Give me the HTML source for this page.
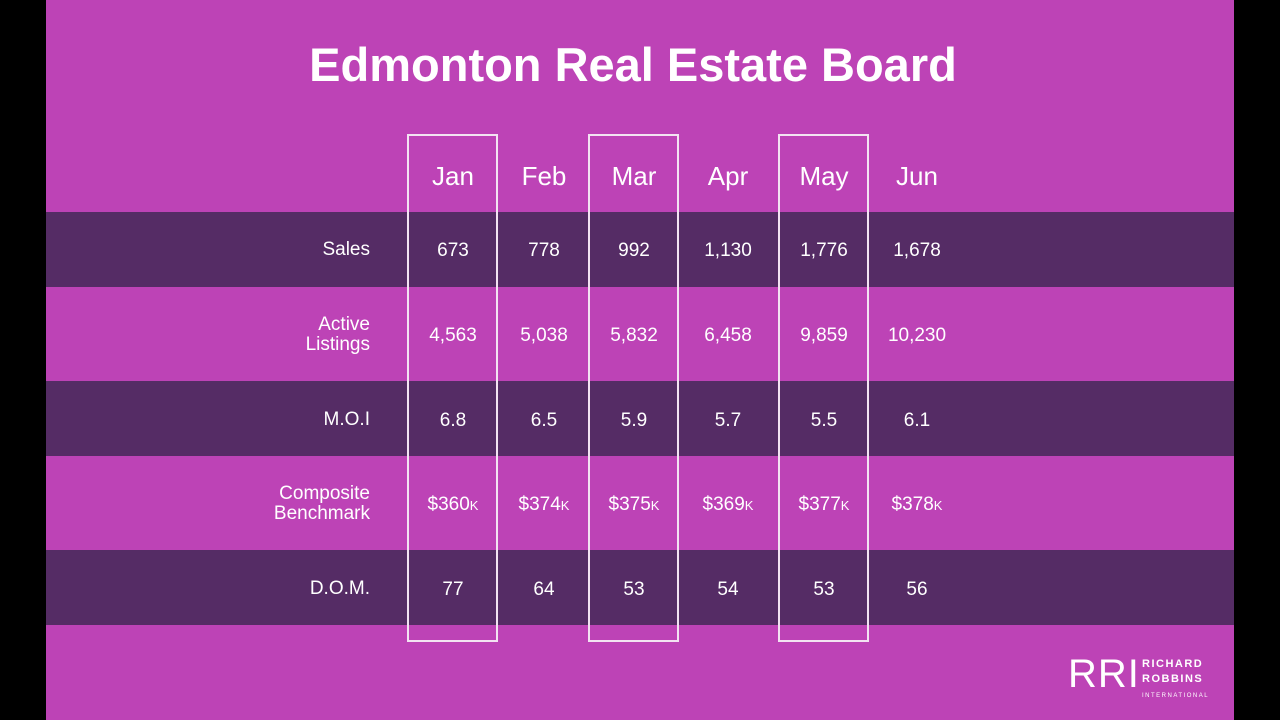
<!DOCTYPE html>
<html><head><meta charset="utf-8"><style>
body{margin:0;width:1280px;height:720px;background:#000;overflow:hidden;font-family:"Liberation Sans",sans-serif;}
#slide{position:absolute;left:46px;top:0;width:1188px;height:720px;background:#bd43b6;}
.t{position:absolute;color:#fff;}
.row{position:absolute;left:46px;width:1188px;background:#552c65;}
.hdr{font-size:26px;width:100px;text-align:center;top:161px;}
.lbl{font-size:19px;text-align:right;width:300px;left:70px;line-height:20px;}
.v{font-size:19px;width:100px;text-align:center;}
.box{position:absolute;border:2px solid #f3e3f2;top:134px;height:504px;width:87px;}
small{font-size:13px;}
</style></head><body>
<div id="slide"></div>
<div class="t" style="left:0;width:1266px;text-align:center;top:37px;font-size:47px;font-weight:bold;">Edmonton Real Estate Board</div>
<div class="row" style="top:212px;height:75px"></div>
<div class="row" style="top:381px;height:75px"></div>
<div class="row" style="top:550px;height:75px"></div>
<div class="box" style="left:407px"></div>
<div class="box" style="left:588px"></div>
<div class="box" style="left:778px"></div>
<div id="tbl"></div>
<div class="t" style="left:1068px;top:652px;font-size:40px;letter-spacing:1px;">RRI</div>
<div class="t" style="left:1142px;top:657px;font-size:11px;font-weight:bold;letter-spacing:1.5px;line-height:15px;">RICHARD<br>ROBBINS<br><span style="font-size:6px;font-weight:normal">INTERNATIONAL</span></div>
<script>
const months=["Jan","Feb","Mar","Apr","May","Jun"];
const labels=["Sales","Active<br>Listings","M.O.I","Composite<br>Benchmark","D.O.M."];
const sales=["673","778","992","1,130","1,776","1,678"];
const listings=["4,563","5,038","5,832","6,458","9,859","10,230"];
const moi=["6.8","6.5","5.9","5.7","5.5","6.1"];
const bench=["$360","$374","$375","$369","$377","$378"];
const dom=["77","64","53","54","53","56"];
const colX=[453,544,634,728,824,917];
const rowY=[251,336,421,505,590];
const series=[sales,listings,moi,bench,dom];
const root=document.getElementById('tbl');
months.forEach((m,i)=>{const d=document.createElement('div');d.className='t hdr';d.style.left=(colX[i]-50)+'px';d.innerHTML=m;


root.appendChild(d);});
labels.forEach((l,r)=>{const d=document.createElement('div');d.className='t lbl';const two=l.includes('<br>');d.style.top=(rowY[r]-(two?21:11))+'px';d.innerHTML=l;


root.appendChild(d);
series[r].forEach((v,i)=>{const c=document.createElement('div');c.className='t v';c.style.left=(colX[i]-50)+'px';c.style.top=(rowY[r]-11)+'px';c.innerHTML=r===3?v+'<small>K</small>':v;


root.appendChild(c);});});
</script>
</body></html>
